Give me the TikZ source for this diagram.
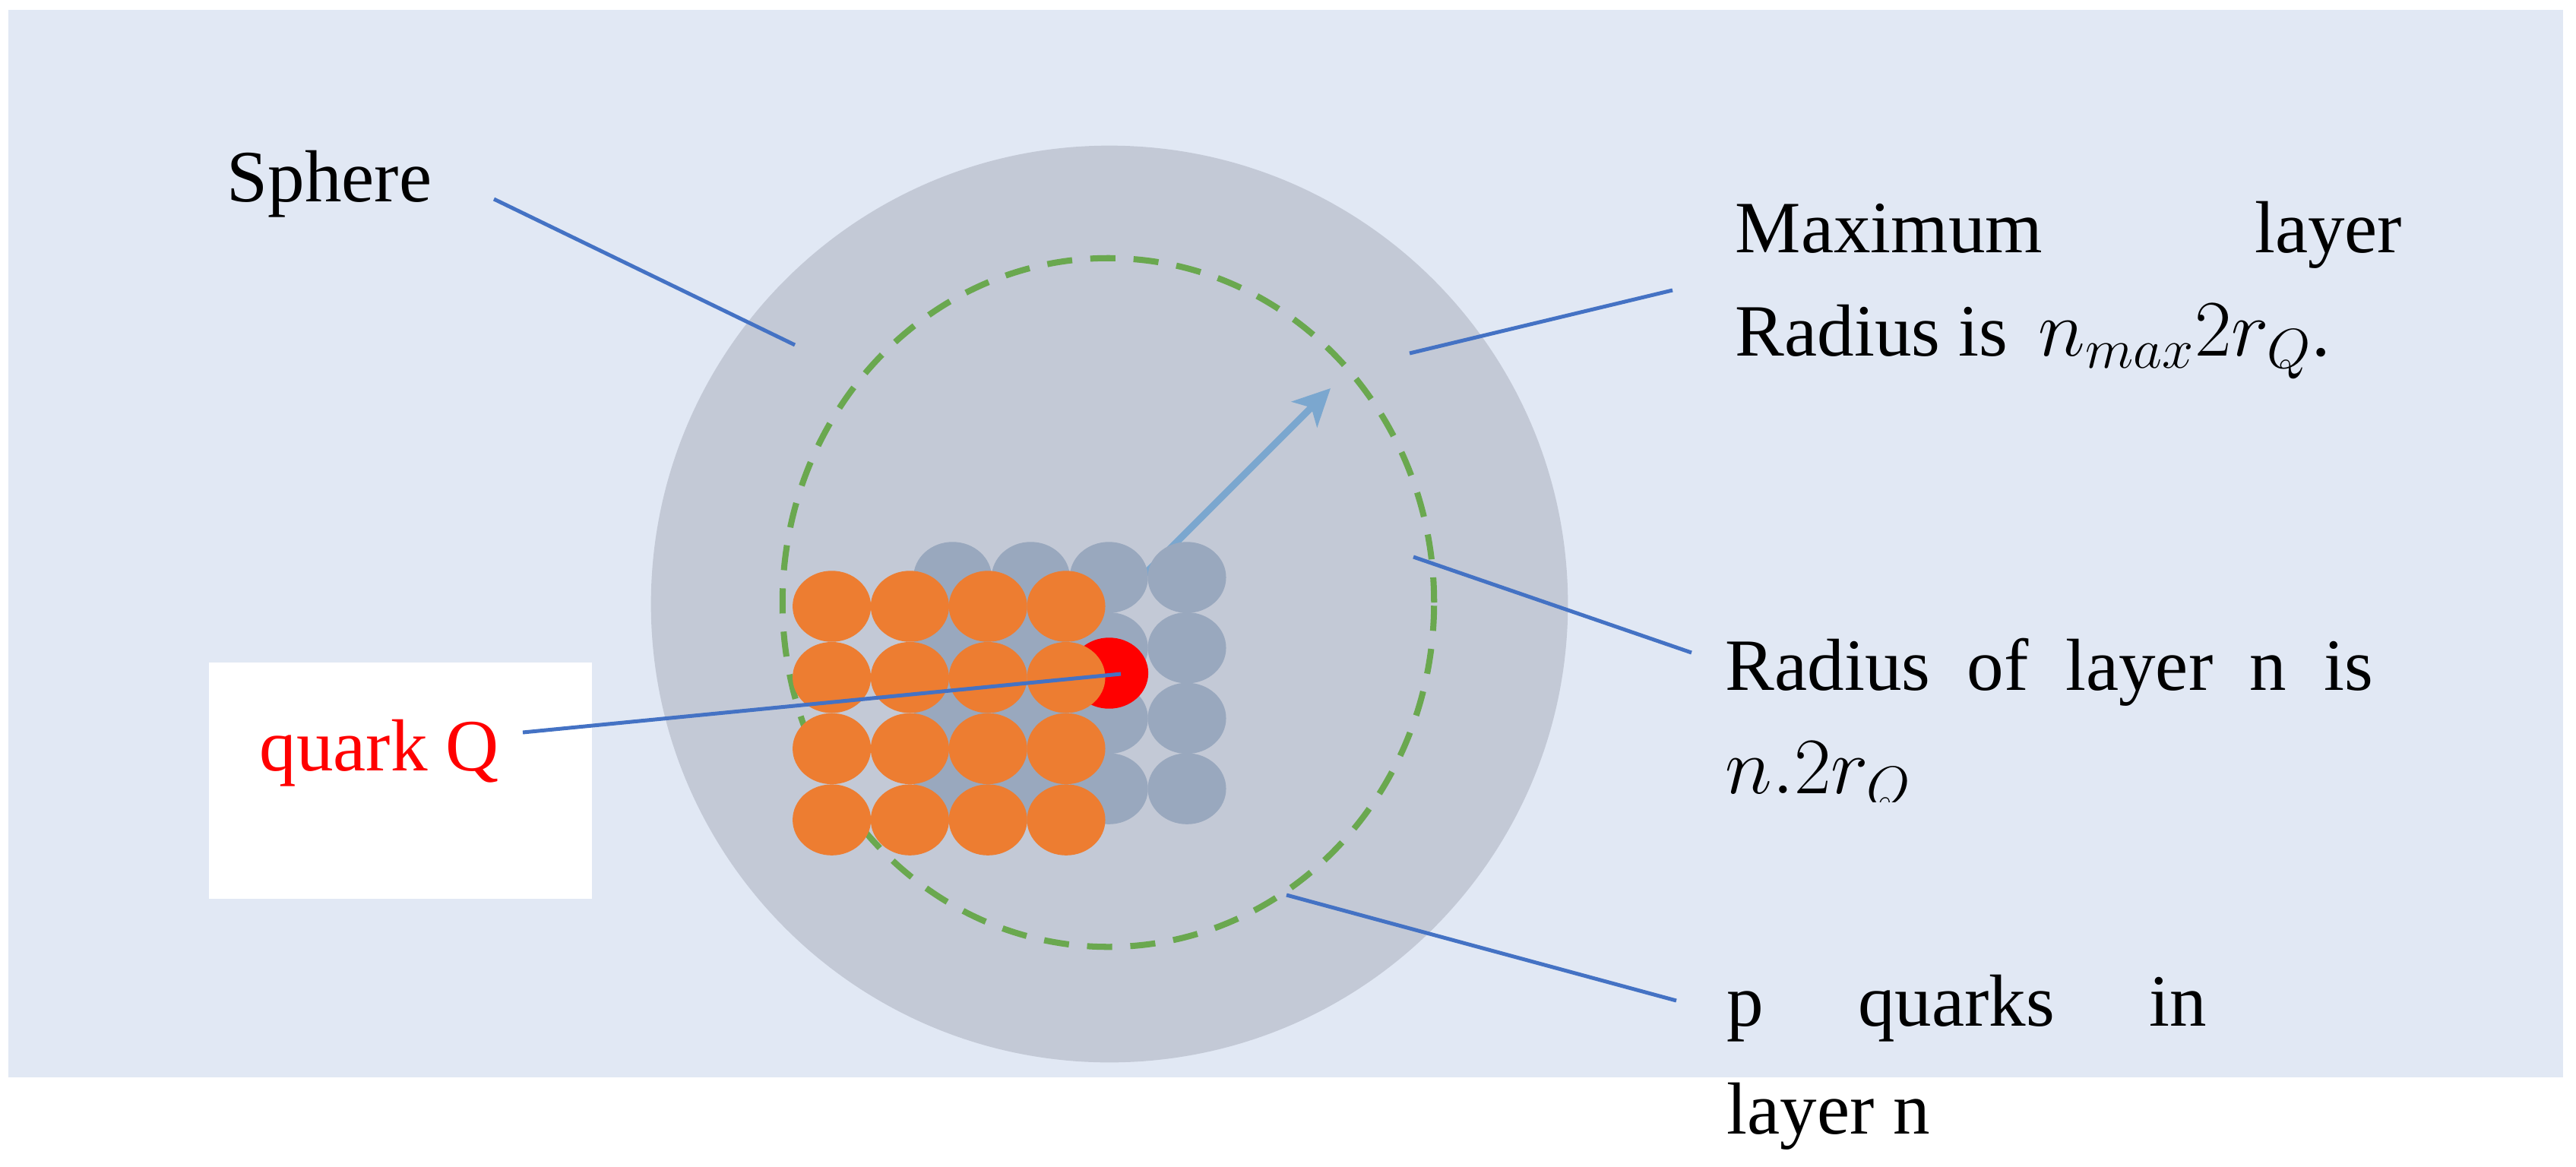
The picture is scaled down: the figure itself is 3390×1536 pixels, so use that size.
\RequirePackage{fix-cm}
\documentclass[tikz,border=0pt]{standalone}
\usepackage{fontspec}
\setmainfont{Liberation Serif}
\usetikzlibrary{arrows.meta}
\definecolor{bgblue}{HTML}{E1E8F4}
\definecolor{spheregray}{HTML}{C3C9D6}
\definecolor{qgray}{HTML}{99A8BE}
\definecolor{qorange}{HTML}{ED7D31}
\definecolor{qgreen}{HTML}{6AA84F}
\definecolor{lineblue}{HTML}{4472C4}
\definecolor{arrowblue}{HTML}{7BA7CF}
\newcommand{\bigmath}[1]{{\fontsize{30}{38.8}\selectfont$#1$}}
\begin{document}
\begin{tikzpicture}[x=0.01cm,y=-0.01cm,
  lbl/.style={inner sep=0pt, anchor=base west, font=\fontsize{27.6}{38.8}\selectfont},
  leader/.style={draw=lineblue, line width=1.42pt},
  quarkball/.style={x radius=0.515cm, y radius=0.467cm}]
\useasboundingbox (0,0) rectangle (3390,1536);
\fill[white] (0,0) rectangle (3390,1536);
\fill[bgblue] (11,13) rectangle (3373,1418);
% sphere
\fill[spheregray] (1460,795) circle [radius=6.03cm];
% maximum layer (dashed)
\draw[qgreen, line width=2.28pt, dash pattern=on 9.4pt off 6.8pt] (1458.5,793) ellipse [x radius=4.285cm, y radius=4.53cm];
% radius arrow
\coordinate (arrowStart) at (1455,807);
\coordinate (arrowTip) at (1751,511);
\draw[arrowblue, line width=2.56pt, -{Stealth[length=13.8pt,width=13.4pt,inset=3.6pt]}] (arrowStart) -- (arrowTip);
% gray quarks
\foreach \i in {0,...,3}
  \foreach \j in {0,...,3}
    \fill[qgray] ({1253.6+102.8*\i},{760+92.7*\j}) ellipse [quarkball];
% red quark Q
\coordinate (redQ) at (1459.6,886);
\fill[red] (redQ) ellipse [quarkball];
% orange quarks
\foreach \i in {0,...,3}
  \foreach \j in {0,...,3}
    \fill[qorange] ({1094.6+102.8*\i},{798+93.7*\j}) ellipse [quarkball];
% white label box
\fill[white] (275,872) rectangle (779,1183);
% labels
\node[lbl] (sphere) at (298,265) {Sphere};
\node[lbl, text=red] (quark) at (341,1014) {quark Q};
\node[lbl] (maxlayer) at (2283,332) {\vtop{\hbox{\makebox[249.5pt][s]{Maximum layer}}\hbox{Radius is \,\bigmath{n_{max}2r_{Q}}.}}};
\begin{scope}
  \clip (2200,700) rectangle (3390,1055);
  \node[lbl] (layern) at (2270,908) {\vtop{\hbox{\makebox[242.3pt][s]{Radius of layer n is}}\hbox{\bigmath{n.2r_{Q}}}}};
\end{scope}
\node[lbl, font=\fontsize{27.6}{40.4}\selectfont] (pquarks) at (2272,1350) {\vtop{\hbox{\makebox[179.5pt][s]{p quarks in}}\hbox{layer n}}};
% leader lines
\coordinate (sphereA) at (650,262);
\coordinate (sphereB) at (1046,454);
\draw[leader] (sphereA) -- (sphereB);
\coordinate (maxA) at (2201,382);
\coordinate (maxB) at (1855,465);
\draw[leader] (maxA) -- (maxB);
\coordinate (layerA) at (1860,733);
\coordinate (layerB) at (2226,859);
\draw[leader] (layerA) -- (layerB);
\coordinate (pA) at (1693,1178);
\coordinate (pB) at (2206,1317);
\draw[leader] (pA) -- (pB);
\coordinate (quarkA) at (688,964);
\coordinate (quarkB) at (1475,887);
\draw[leader] (quarkA) -- (quarkB);
\end{tikzpicture}
\end{document}
